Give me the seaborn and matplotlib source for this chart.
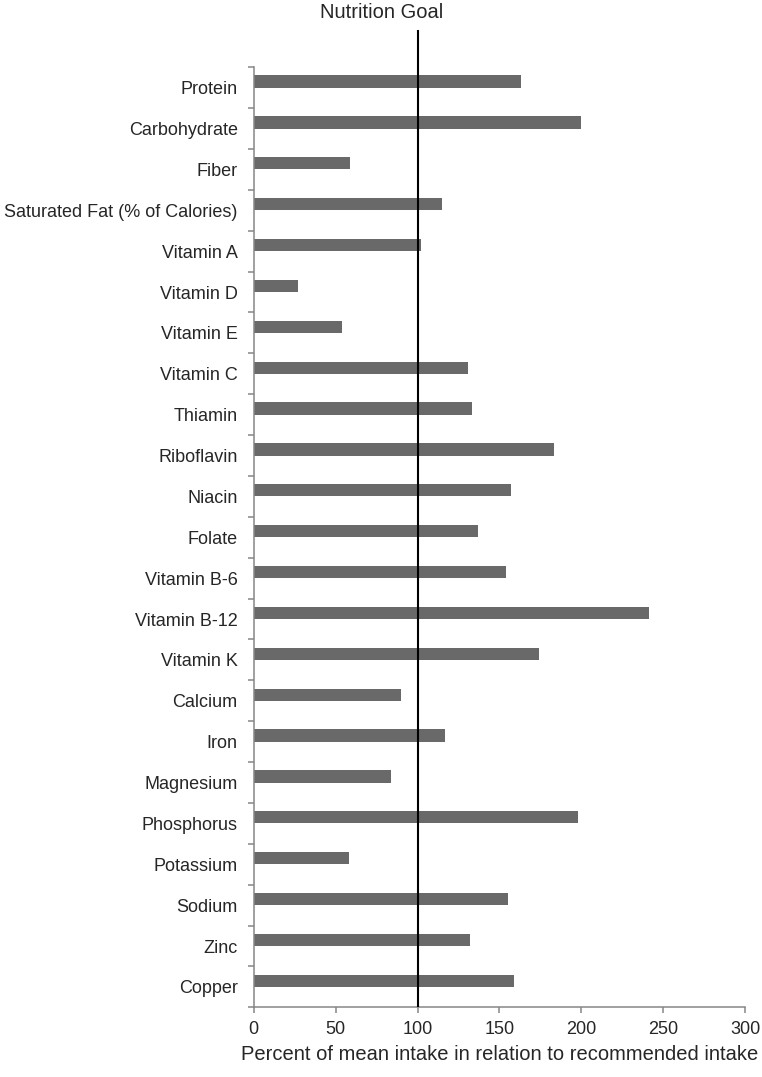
import matplotlib
matplotlib.use("Agg")
import matplotlib.pyplot as plt
import numpy as np
import pandas as pd
import seaborn as sns

nutrients = ["Protein", "Carbohydrate", "Fiber", "Saturated Fat (% of Calories)",
             "Vitamin A", "Vitamin D", "Vitamin E", "Vitamin C", "Thiamin",
             "Riboflavin", "Niacin", "Folate", "Vitamin B-6", "Vitamin B-12",
             "Vitamin K", "Calcium", "Iron", "Magnesium", "Phosphorus",
             "Potassium", "Sodium", "Zinc", "Copper"]
percent_of_goal = [163, 200, 59, 115, 102, 27, 54, 131, 133, 183, 157, 137,
                   154, 241, 174, 90, 117, 84, 198, 58, 155, 132, 159]
goal = 100
x_ticks = [0, 50, 100, 150, 200, 250, 300]

BAR = "#696969"
SPINE = "#868686"

def plot():
    sns.set_style("white")
    plt.rcParams['font.family'] = ['Liberation Sans', 'DejaVu Sans']

    df = pd.DataFrame({"nutrient": nutrients,
                       "percent": percent_of_goal,
                       "series": "Intake"})

    fig = plt.figure(figsize=(7.62, 10.77), dpi=100)
    ax = fig.add_axes([0.3329, 0.0647, 0.6451, 0.9074])

    # second (empty) series keeps the excel-style offset of the bars
    sns.barplot(data=df, y="nutrient", x="percent", hue="series",
                hue_order=["Intake", "Goal"], order=nutrients,
                palette={"Intake": BAR, "Goal": "black"},
                width=0.6, dodge=True, orient="h", legend=False,
                linewidth=0, ax=ax)

    ax.axvline(goal, color="black", lw=1.5, zorder=5)

    n = len(nutrients)
    ax.set_xlim(0, 300)
    ax.set_ylim(n - 0.5, -1.41)
    ax.set_xticks(x_ticks)
    ax.set_xticklabels([str(t) for t in x_ticks])

    # tick marks sit between categories
    ax.set_yticks(np.arange(n))
    ax.set_yticklabels(nutrients)
    ax.set_yticks(np.arange(n + 1) - 0.5, minor=True)
    ax.tick_params(axis="y", which="major", length=0, pad=11.5, labelsize=13)
    ax.tick_params(axis="y", which="minor", length=4.3, width=1.1,
                   color=SPINE, direction="out", left=True)
    ax.tick_params(axis="x", length=4, width=1.1, color=SPINE,
                   direction="out", bottom=True, pad=6, labelsize=13)

    for s in ["top", "right"]:
        ax.spines[s].set_visible(False)
    for s in ["left", "bottom"]:
        ax.spines[s].set_color(SPINE)
        ax.spines[s].set_linewidth(1.1)
    ax.spines["left"].set_bounds(n - 0.5, -0.5)
    ax.spines["bottom"].set_bounds(0, 300)

    ax.set_ylabel("")
    ax.set_xlabel("Percent of mean intake in relation to recommended intake",
                  fontsize=14.5, labelpad=5)
    fig.text(0.501, 0.9885, "Nutrition Goal", ha="center", va="center",
             fontsize=14.5)

    fig.savefig("out.png", dpi=100, facecolor="white")

def main():
    plot()

if __name__ == "__main__":
    main()
